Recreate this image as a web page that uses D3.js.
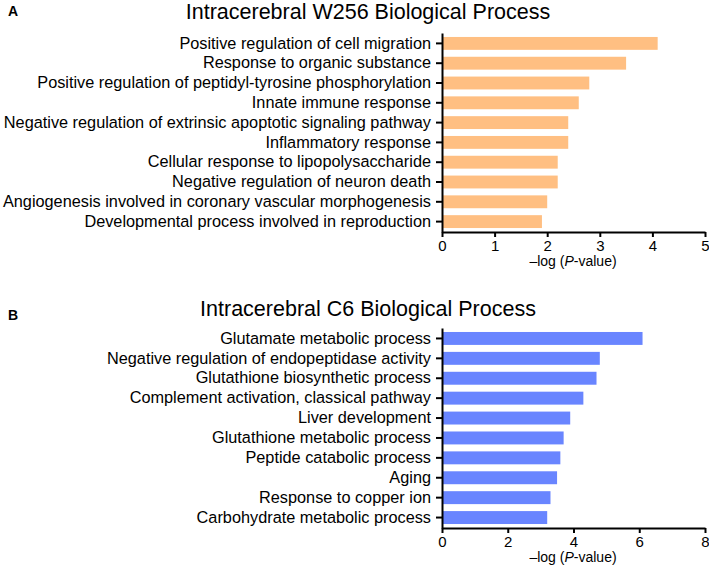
<!DOCTYPE html>
<html>
<head>
<meta charset="utf-8">
<script src="https://cdn.jsdelivr.net/npm/d3@7"></script>
<style>
  html, body { margin: 0; padding: 0; background: #fff; }
  svg { display: block; font-family: "Liberation Sans", Arial, Helvetica, sans-serif; }
</style>
</head>
<body>
<svg id="chart" width="709" height="570"></svg>
<script>
const categoriesA = [
  "Positive regulation of cell migration",
  "Response to organic substance",
  "Positive regulation of peptidyl-tyrosine phosphorylation",
  "Innate immune response",
  "Negative regulation of extrinsic apoptotic signaling pathway",
  "Inflammatory response",
  "Cellular response to lipopolysaccharide",
  "Negative regulation of neuron death",
  "Angiogenesis involved in coronary vascular morphogenesis",
  "Developmental process involved in reproduction"
];
const valuesA = [4.1, 3.5, 2.8, 2.6, 2.4, 2.4, 2.2, 2.2, 2.0, 1.9];
const ticksA = [0, 1, 2, 3, 4, 5];

const categoriesB = [
  "Glutamate metabolic process",
  "Negative regulation of endopeptidase activity",
  "Glutathione biosynthetic process",
  "Complement activation, classical pathway",
  "Liver development",
  "Glutathione metabolic process",
  "Peptide catabolic process",
  "Aging",
  "Response to copper ion",
  "Carbohydrate metabolic process"
];
const valuesB = [6.1, 4.8, 4.7, 4.3, 3.9, 3.7, 3.6, 3.5, 3.3, 3.2];
const ticksB = [0, 2, 4, 6, 8];

const svg = d3.select("#chart");

function panel(opts) {
  const g = svg.append("g");
  const x = d3.scaleLinear().domain([0, opts.ticks[opts.ticks.length - 1]]).range([442, 705]);
  const y = d3.scaleBand().domain(opts.categories).range([opts.top, opts.bottom])
    .paddingInner(0.35).paddingOuter(0.2);

  // panel letter
  g.append("text").attr("x", 8).attr("y", opts.letterY)
    .attr("font-size", 14).attr("font-weight", "bold").attr("fill", "#000")
    .text(opts.letter);

  // title
  g.append("text").attr("x", 368).attr("y", opts.titleY)
    .attr("text-anchor", "middle").attr("font-size", 21.5).attr("fill", "#000")
    .text(opts.title);

  // bars
  g.selectAll("rect.bar").data(opts.values).join("rect")
    .attr("class", "bar")
    .attr("x", x(0))
    .attr("y", (d, i) => y(opts.categories[i]))
    .attr("width", d => x(d) - x(0))
    .attr("height", y.bandwidth())
    .attr("fill", opts.color);

  // y axis
  const ya = g.append("g").attr("transform", `translate(${x(0)},0)`)
    .call(d3.axisLeft(y).tickSize(6).tickSizeOuter(0).tickPadding(5));
  ya.selectAll("text").attr("font-size", 16.3).attr("fill", "#000")
    .style("font-family", "'Liberation Sans', Arial, sans-serif");
  ya.selectAll("line").attr("stroke", "#000").attr("stroke-width", 2);
  ya.select(".domain").attr("stroke", "#000").attr("stroke-width", 2);

  // x axis
  const xa = g.append("g").attr("transform", `translate(0,${opts.bottom})`)
    .call(d3.axisBottom(x).tickValues(opts.ticks).tickFormat(d3.format("d"))
      .tickSize(5).tickSizeOuter(0).tickPadding(3));
  xa.selectAll("text").attr("font-size", 15).attr("fill", "#000")
    .style("font-family", "'Liberation Sans', Arial, sans-serif");
  xa.selectAll("line").attr("stroke", "#000").attr("stroke-width", 2);
  xa.select(".domain").attr("stroke", "#000").attr("stroke-width", 2);

  // x axis title
  const t = g.append("text").attr("x", 573).attr("y", opts.bottom + 34)
    .attr("text-anchor", "middle").attr("font-size", 14).attr("fill", "#000");
  t.append("tspan").text("\u2013log (");
  t.append("tspan").attr("font-style", "italic").text("P");
  t.append("tspan").text("-value)");
}

panel({
  letter: "A", letterY: 16, title: "Intracerebral W256 Biological Process", titleY: 19,
  categories: categoriesA, values: valuesA, ticks: ticksA,
  top: 33, bottom: 232, color: "#FFBF82"
});
panel({
  letter: "B", letterY: 320, title: "Intracerebral C6 Biological Process", titleY: 316,
  categories: categoriesB, values: valuesB, ticks: ticksB,
  top: 328, bottom: 528, color: "#6985FF"
});
</script>
</body>
</html>
